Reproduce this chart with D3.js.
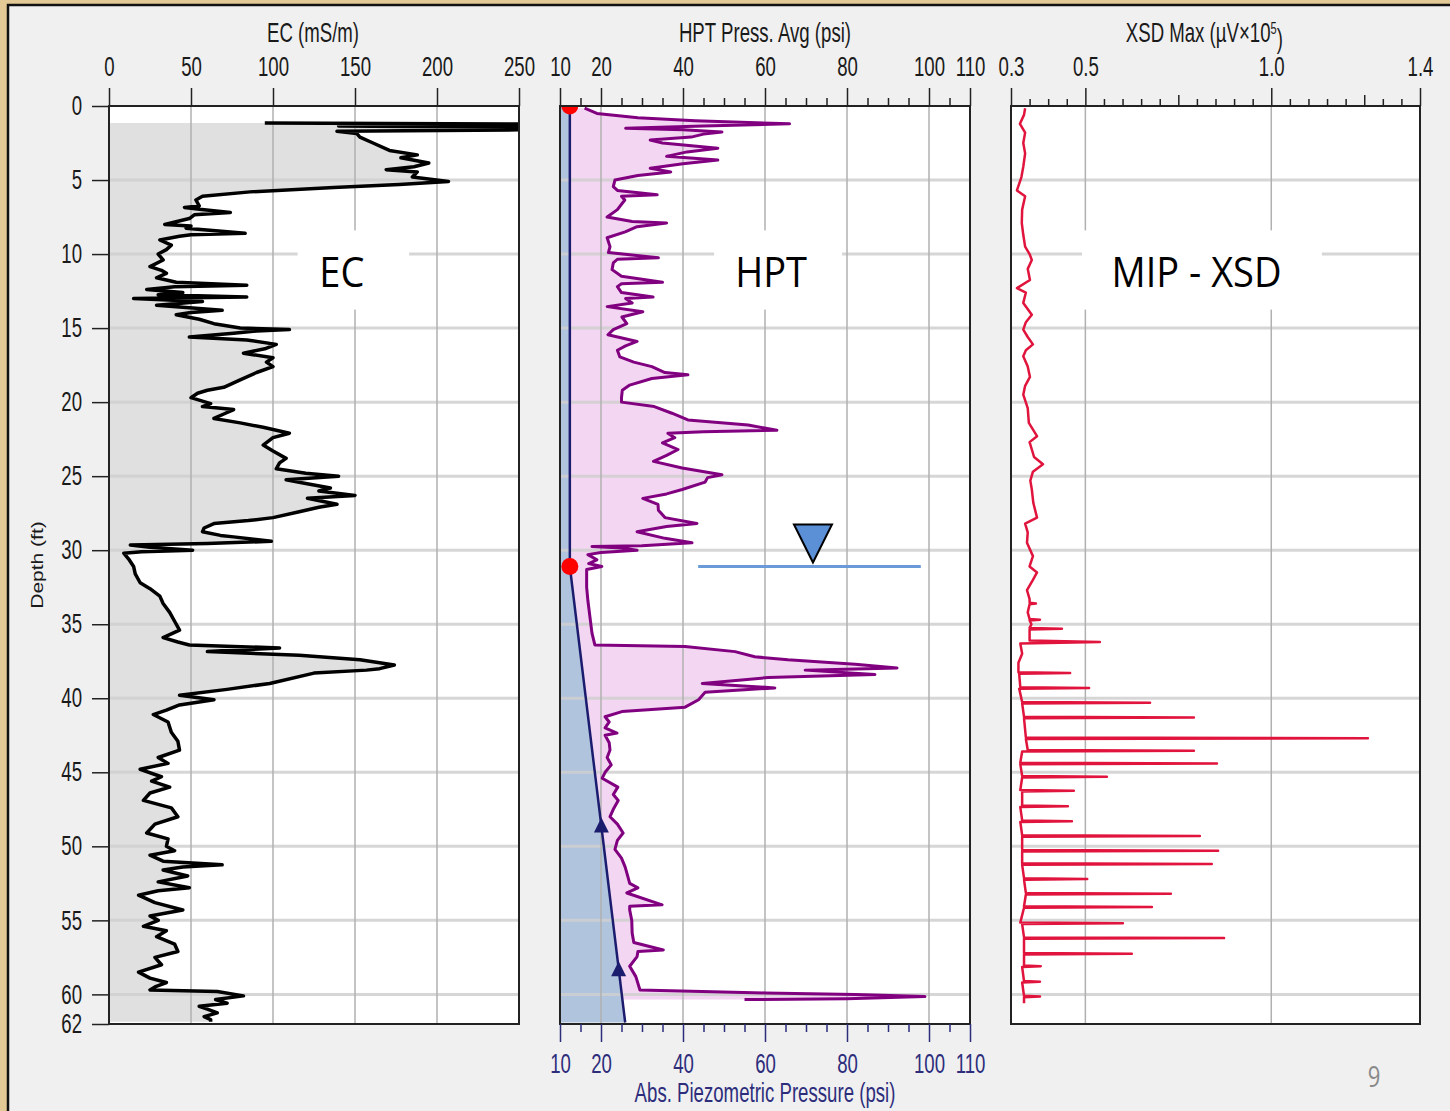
<!DOCTYPE html>
<html>
<head>
<meta charset="utf-8">
<script src="https://cdn.jsdelivr.net/npm/d3@7"></script>
<style>
body { margin: 0; background: #e2c995; }
svg text { font-family: 'Liberation Sans', Arial, sans-serif; }
</style>
</head>
<body>
<div id="chart"></div>
<script>
// depth axis
var depthTicks = [0, 5, 10, 15, 20, 25, 30, 35, 40, 45, 50, 55, 60, 62];
var ecTicks = [0, 50, 100, 150, 200, 250];
var hptTicks = [10, 20, 40, 60, 80, 100, 110];
var xsdTicks = [0.3, 0.5, 1.0, 1.4];

// EC log: [depth ft, EC mS/m]
var ecPoints = [
	[1.15, 95], [1.22, 262], [1.3, 262], [1.35, 140], [1.45, 262], [1.6, 262], [1.7, 139], [1.85, 151],
	[2.1, 153], [2.5, 161], [3.0, 171], [3.3, 188], [3.5, 178], [3.85, 195], [4.1, 186], [4.3, 169],
	[4.45, 188], [4.8, 185], [5.1, 207], [5.3, 177], [5.5, 137], [5.8, 86], [6.1, 57], [6.35, 53],
	[6.75, 55], [6.85, 46], [7.0, 58], [7.2, 74], [7.35, 52], [7.6, 49], [8.0, 34], [8.1, 50],
	[8.25, 47], [8.6, 83], [8.7, 50], [8.8, 43], [9.05, 31], [9.4, 38], [9.7, 35], [10.0, 30],
	[10.4, 33], [10.85, 25], [11.1, 32], [11.3, 35], [11.6, 29], [11.9, 41], [12.1, 84], [12.2, 40],
	[12.4, 23], [12.6, 45], [12.75, 30], [12.9, 84], [13.0, 15], [13.2, 57], [13.45, 29], [13.6, 45],
	[13.8, 69], [13.95, 50], [14.1, 41], [14.4, 55], [14.7, 64], [15.0, 80], [15.1, 110], [15.2, 90],
	[15.35, 76], [15.6, 49], [15.8, 84], [16.1, 102], [16.4, 95], [16.7, 82], [17.0, 100], [17.3, 96],
	[17.6, 100], [18.0, 90], [18.5, 80], [19.0, 70], [19.2, 60], [19.4, 54], [19.7, 50], [20.1, 62],
	[20.3, 57], [20.5, 76], [20.8, 70], [21.1, 64], [21.4, 80], [21.7, 94], [22.1, 110], [22.4, 100],
	[22.9, 94], [23.3, 100], [23.8, 108], [24.1, 104], [24.5, 102], [24.8, 120], [25.0, 140], [25.25, 108],
	[25.5, 120], [25.8, 135], [26.0, 128], [26.3, 150], [26.5, 121], [26.7, 130], [26.9, 139], [27.1, 128],
	[27.4, 116], [27.8, 100], [28.0, 85], [28.2, 64], [28.5, 58], [28.75, 57], [29.0, 68], [29.1, 76],
	[29.4, 99], [29.55, 60], [29.65, 13], [29.8, 25], [30.0, 51], [30.1, 20], [30.2, 9], [30.6, 12],
	[31.1, 15], [31.6, 16], [32.2, 19], [32.6, 25], [33.1, 31], [33.6, 33], [34.2, 37], [34.8, 40],
	[35.4, 43], [35.9, 33], [36.2, 42], [36.4, 49], [36.6, 104], [36.85, 60], [37.1, 116], [37.4, 153],
	[37.75, 174], [38.0, 165], [38.1, 157], [38.3, 125], [39.0, 98], [39.4, 72], [39.8, 43], [40.1, 64],
	[40.45, 43], [40.8, 35], [41.1, 27], [41.6, 36], [42.3, 38], [42.9, 42], [43.5, 43], [44.0, 30],
	[44.4, 36], [44.8, 19], [45.3, 32], [45.6, 26], [46.0, 37], [46.4, 25], [46.9, 21], [47.4, 38],
	[48.0, 42], [48.5, 28], [49.1, 23], [49.5, 36], [50.0, 35], [50.3, 40], [50.6, 25], [51.0, 33],
	[51.25, 69], [51.4, 45], [51.6, 33], [52.0, 48], [52.4, 30], [52.8, 49], [53.0, 30], [53.3, 18],
	[53.8, 28], [54.3, 45], [54.7, 25], [55.0, 30], [55.4, 21], [55.7, 35], [56.1, 29], [56.6, 40],
	[57.1, 42], [57.5, 28], [58.0, 32], [58.5, 18], [58.9, 25], [59.2, 35], [59.5, 28], [59.7, 25],
	[59.8, 66], [60.1, 82], [60.35, 65], [60.6, 72], [60.8, 55], [61.0, 60], [61.25, 66], [61.5, 58],
	[61.7, 62], [61.85, 62]
];

// HPT pressure: [depth ft, psi]
var hptPoints = [
	[0.15, 16], [0.5, 19], [0.8, 29], [1.0, 43], [1.2, 66], [1.35, 45], [1.5, 26], [1.6, 40],
	[1.75, 49.5], [1.9, 45], [2.1, 42], [2.3, 32], [2.5, 35], [2.85, 48.5], [3.1, 41], [3.4, 36],
	[3.65, 48.5], [3.9, 40], [4.2, 32], [4.45, 37], [4.7, 29], [5.0, 23.4], [5.45, 23], [5.7, 24],
	[6.0, 33.7], [6.1, 25], [6.35, 25.8], [7.0, 24], [7.5, 21.5], [7.8, 27.6], [7.9, 36], [8.15, 28.8],
	[8.5, 25.9], [8.9, 21.5], [9.5, 22.2], [9.9, 21.8], [10.25, 34], [10.35, 24], [10.6, 23], [11.05, 22.7],
	[11.5, 25], [11.9, 35], [12.0, 25], [12.2, 24], [12.6, 25], [12.9, 32.7], [13.0, 26], [13.3, 27.6],
	[13.55, 21.5], [13.9, 30.2], [14.25, 25.1], [14.7, 26.3], [15.1, 23], [15.45, 21.7], [15.9, 28.8], [16.2, 26],
	[16.5, 24], [16.95, 24.6], [17.3, 28], [17.6, 32.4], [18.0, 35.6], [18.15, 41.2], [18.4, 32.4], [18.85, 27],
	[19.2, 25.2], [19.7, 25], [20.0, 25], [20.3, 33], [20.75, 37.3], [21.2, 41.2], [21.55, 55.9], [21.9, 62.9],
	[22.0, 45], [22.1, 36.3], [22.4, 38], [22.75, 35], [23.2, 38.8], [23.6, 36], [24.0, 32.8], [24.45, 39.8],
	[24.9, 49.5], [25.1, 46], [25.4, 45.4], [25.9, 39.8], [26.2, 36], [26.5, 30.2], [26.9, 33.9], [27.3, 34],
	[27.8, 35.6], [28.2, 43.4], [28.4, 36], [28.75, 28.8], [29.2, 35.6], [29.5, 42.2], [29.7, 30], [29.75, 17.8],
	[29.85, 25], [30.0, 28.8], [30.15, 20], [30.3, 16.8], [30.65, 19], [30.9, 17], [31.1, 20.2], [31.3, 16.5],
	[32.5, 16.5], [33.4, 16.8], [34.5, 17.3], [35.6, 17.8], [36.4, 18.5], [36.5, 40.5], [36.85, 52.7], [37.2, 57.5],
	[37.4, 65.6], [37.7, 82], [37.95, 92.2], [38.1, 69.8], [38.4, 86.8], [38.6, 60.8], [39.0, 44.7], [39.3, 62.4],
	[39.6, 45.4], [40.1, 43.8], [40.6, 40.5], [40.9, 25.1], [41.25, 21], [41.6, 22], [42.0, 21], [42.35, 23.9],
	[42.5, 21], [43.0, 22], [43.5, 22.2], [44.0, 21.5], [44.5, 22.5], [45.0, 21], [45.4, 20.3], [46.0, 24.1],
	[46.5, 23], [46.9, 24.2], [47.5, 23], [48.0, 22.2], [48.5, 24], [49.1, 25.4], [49.6, 24], [50.2, 23.4],
	[50.8, 25], [51.4, 25.9], [52.0, 26.5], [52.5, 27], [52.8, 29], [53.15, 26.3], [53.95, 34.9], [54.05, 27],
	[54.3, 27], [55.0, 27.5], [55.85, 27.6], [56.5, 28], [57.0, 35.2], [57.1, 29], [57.45, 28.8], [58.1, 27],
	[58.8, 28.5], [59.7, 29.5], [59.9, 60], [60.0, 82], [60.15, 99], [60.3, 80], [60.35, 55]
];

// Abs. piezometric (hydrostatic) line: [depth ft, psi]
var hydroPoints = [[0, 12.4], [31.1, 12.4], [61.9, 25.9]];
var hydroDots = [[0, 12.4], [31.1, 12.4]];
var hydroArrows = [[48.6, 20.1], [58.3, 24.3]];
// water table marker: depth, psi from, psi to, psi of triangle
var waterTable = [31.1, 43.7, 98.0, 71.7];

// XSD max: [depth ft, uV x 10^5]
var xsdPoints = [
	[0.15, 0.338], [0.6, 0.335], [1.2, 0.324], [1.8, 0.338], [2.5, 0.333], [3.2, 0.338], [4.1, 0.333], [4.8, 0.328],
	[5.7, 0.316], [6.1, 0.338], [7.0, 0.33], [7.9, 0.329], [8.7, 0.333], [9.5, 0.338], [10.0, 0.35], [10.4, 0.356],
	[11.0, 0.345], [11.75, 0.351], [12.3, 0.316], [12.6, 0.34], [13.3, 0.333], [14.1, 0.356], [14.6, 0.34], [15.1, 0.333],
	[15.6, 0.345], [16.1, 0.359], [16.5, 0.34], [16.9, 0.333], [17.6, 0.345], [18.3, 0.351], [18.9, 0.338], [19.5, 0.333],
	[20.4, 0.345], [21.4, 0.348], [22.3, 0.37], [22.7, 0.35], [23.2, 0.356], [23.7, 0.362], [24.2, 0.386], [24.7, 0.359],
	[25.3, 0.352], [25.9, 0.356], [26.8, 0.36], [27.8, 0.37], [28.2, 0.338], [28.8, 0.345], [29.5, 0.343], [30.4, 0.359],
	[31.1, 0.35], [31.5, 0.37], [32.0, 0.359], [32.7, 0.343], [33.3, 0.35], [33.55, 0.35], [33.6, 0.367], [33.65, 0.35],
	[34.2, 0.345], [34.65, 0.35], [34.7, 0.378], [34.75, 0.35], [35.0, 0.355], [35.25, 0.35], [35.3, 0.437], [35.35, 0.35],
	[36.1, 0.35], [36.2, 0.539], [36.3, 0.325], [37.0, 0.33], [37.6, 0.32], [38.25, 0.32], [38.3, 0.459], [38.35, 0.322],
	[39.25, 0.325], [39.3, 0.51], [39.35, 0.322], [40.25, 0.33], [40.3, 0.674], [40.35, 0.33], [41.25, 0.335], [41.3, 0.792],
	[41.35, 0.335], [42.65, 0.34], [42.7, 1.26], [42.75, 0.34], [43.5, 0.345], [43.55, 0.792], [43.6, 0.33], [44.35, 0.325],
	[44.4, 0.854], [44.45, 0.325], [45.25, 0.33], [45.3, 0.558], [45.35, 0.33], [46.2, 0.325], [46.25, 0.469], [46.3, 0.33],
	[47.25, 0.33], [47.3, 0.453], [47.35, 0.325], [48.25, 0.33], [48.3, 0.464], [48.35, 0.325], [49.25, 0.33], [49.3, 0.808],
	[49.35, 0.33], [50.25, 0.33], [50.3, 0.857], [50.35, 0.33], [51.15, 0.33], [51.2, 0.84], [51.25, 0.33], [52.15, 0.335],
	[52.2, 0.505], [52.25, 0.335], [53.15, 0.34], [53.2, 0.73], [53.25, 0.34], [54.05, 0.335], [54.1, 0.679], [54.15, 0.335],
	[55.15, 0.325], [55.2, 0.601], [55.25, 0.33], [56.15, 0.335], [56.2, 0.873], [56.25, 0.335], [57.2, 0.335], [57.25, 0.625],
	[57.3, 0.335], [58.05, 0.335], [58.1, 0.38], [58.15, 0.33], [59.1, 0.335], [59.15, 0.378], [59.2, 0.33], [60.1, 0.335],
	[60.15, 0.378], [60.2, 0.335], [60.6, 0.335]
];


var W = 1450, H = 1111;
var top_y = 106, bottom_y = 1024;
var SQ = 0.69;          // the slide text is squeezed sideways
var FS = "27px";

var svg = d3.select("#chart").append("svg")
	.attr("width", W)
	.attr("height", H);

// backdrop
svg.append("rect").attr("width", W).attr("height", H).attr("fill", "#e2c995");
svg.append("rect").attr("x", 8).attr("y", 5).attr("width", W).attr("height", H)
	.attr("fill", "#f0f0f0").attr("stroke", "#111").attr("stroke-width", 2.5);

var y = d3.scaleLinear().domain([0, 62]).range([top_y, bottom_y]);

var panels = [
	{ id: "ec", x: d3.scaleLinear().domain([0, 250]).range([109, 519]), grid: [50, 100, 150, 200] },
	{ id: "hpt", x: d3.scaleLinear().domain([10, 110]).range([560, 970]), grid: [20, 40, 60, 80, 100] },
	{ id: "xsd", x: d3.scaleLinear().domain([0.3, 1.4]).range([1011, 1420]), grid: [0.5, 1.0] }
];

var defs = svg.append("defs");
var layers = {};

panels.forEach(function(p) {
	var r = p.x.range();
	defs.append("clipPath").attr("id", "clip-" + p.id)
		.append("rect").attr("x", r[0]).attr("y", top_y).attr("width", r[1] - r[0]).attr("height", bottom_y - top_y);

	svg.append("rect").attr("x", r[0]).attr("y", top_y).attr("width", r[1] - r[0]).attr("height", bottom_y - top_y)
		.attr("fill", "#fff");

	p.fill = svg.append("g").attr("clip-path", "url(#clip-" + p.id + ")");
	p.grid_g = svg.append("g");
	p.marks = svg.append("g").attr("clip-path", "url(#clip-" + p.id + ")");
	layers[p.id] = p;
});

// grid
panels.forEach(function(p) {
	var r = p.x.range();
	p.grid_g.selectAll(".hgrid").data(depthTicks.filter(function(d) { return d > 0 && d < 62; }))
		.enter().append("line")
		.attr("x1", r[0]).attr("x2", r[1])
		.attr("y1", function(d) { return y(d); }).attr("y2", function(d) { return y(d); })
		.attr("stroke", "#cfcfcf").attr("stroke-opacity", 0.85).attr("stroke-width", 3);
	p.grid_g.selectAll(".vgrid").data(p.grid)
		.enter().append("line")
		.attr("x1", function(d) { return p.x(d); }).attr("x2", function(d) { return p.x(d); })
		.attr("y1", top_y).attr("y2", bottom_y)
		.attr("stroke", "#b0b0b0").attr("stroke-width", 1.5);
});

var ec = layers.ec, hpt = layers.hpt, xsd = layers.xsd;

// EC
ec.fill.append("path").datum(ecPoints)
	.attr("fill", "#e0e0e0")
	.attr("d", d3.area().y(function(d) { return y(d[0]); }).x0(ec.x(0)).x1(function(d) { return ec.x(d[1]); }));

// HPT fills
hpt.fill.append("path").datum(hptPoints)
	.attr("fill", "#f3d6f1")
	.attr("d", d3.area().y(function(d) { return y(d[0]); }).x0(hpt.x(10)).x1(function(d) { return hpt.x(d[1]); }));
hpt.fill.append("path").datum(hydroPoints)
	.attr("fill", "#b0c4de")
	.attr("d", d3.area().y(function(d) { return y(d[0]); }).x0(hpt.x(10)).x1(function(d) { return hpt.x(d[1]); }));

// text boxes breaking the grid
var labels = [
	{ p: ec, text: "EC", v: 142, box: [115, 183] },
	{ p: hpt, text: "HPT", v: 61.5, box: [47.6, 78.8] },
	{ p: xsd, text: "MIP - XSD", v: 0.799, box: [0.491, 1.136] }
];
labels.forEach(function(l) {
	l.p.grid_g.append("rect")
		.attr("x", l.p.x(l.box[0])).attr("y", y(8.4))
		.attr("width", l.p.x(l.box[1]) - l.p.x(l.box[0])).attr("height", y(13.75) - y(8.4))
		.attr("fill", "#fff");
	l.p.grid_g.append("text")
		.attr("transform", "translate(" + l.p.x(l.v) + "," + y(12.2) + ") scale(0.95,1.05)")
		.attr("text-anchor", "middle")
		.style("font-family", "'Open Sans', sans-serif")
		.style("font-size", "40px")
		.attr("fill", "#000")
		.text(l.text);
});

var line = function(sx) {
	return d3.line().y(function(d) { return y(d[0]); }).x(function(d) { return sx(d[1]); });
};

ec.marks.append("path").datum(ecPoints)
	.attr("fill", "none").attr("stroke", "#000").attr("stroke-width", 3.5).attr("stroke-linejoin", "round")
	.attr("d", line(ec.x));

hpt.marks.append("path").datum(hydroPoints)
	.attr("fill", "none").attr("stroke", "#1c1c6e").attr("stroke-width", 2.5)
	.attr("d", line(hpt.x));

hpt.marks.append("path").datum(hptPoints)
	.attr("fill", "none").attr("stroke", "#800080").attr("stroke-width", 3).attr("stroke-linejoin", "round")
	.attr("d", line(hpt.x));

hpt.marks.selectAll(".dot").data(hydroDots).enter().append("circle")
	.attr("cx", function(d) { return hpt.x(d[1]); })
	.attr("cy", function(d) { return y(d[0]); })
	.attr("r", 8.5).attr("fill", "#ff0000");

hpt.marks.selectAll(".arrow").data(hydroArrows).enter().append("path")
	.attr("transform", function(d) { return "translate(" + hpt.x(d[1]) + "," + y(d[0]) + ")"; })
	.attr("d", "M0,-8 L7.5,7 L-7.5,7 Z")
	.attr("fill", "#1c1c6e");

// water table marker
hpt.marks.append("line")
	.attr("x1", hpt.x(waterTable[1])).attr("x2", hpt.x(waterTable[2]))
	.attr("y1", y(waterTable[0])).attr("y2", y(waterTable[0]))
	.attr("stroke", "#6a9bd8").attr("stroke-width", 3);
hpt.marks.append("path")
	.attr("transform", "translate(" + hpt.x(waterTable[3]) + "," + (y(waterTable[0]) - 4) + ")")
	.attr("d", "M0,0 L-19,-38 L19,-38 Z")
	.attr("fill", "#5b8fd6").attr("stroke", "#000").attr("stroke-width", 2).attr("stroke-linejoin", "miter");

xsd.marks.append("path").datum(xsdPoints)
	.attr("fill", "none").attr("stroke", "#e0143c").attr("stroke-width", 2.5).attr("stroke-linejoin", "round")
	.attr("d", line(xsd.x));

// plot frames
panels.forEach(function(p) {
	var r = p.x.range();
	svg.append("rect").attr("x", r[0]).attr("y", top_y).attr("width", r[1] - r[0]).attr("height", bottom_y - top_y)
		.attr("fill", "none").attr("stroke", "#222").attr("stroke-width", 2);
});

// axes
function styleAxis(g, color) {
	g.select(".domain").remove();
	g.selectAll(".tick line").attr("stroke", color || "#222").attr("stroke-width", 1.5);
	g.selectAll(".tick text").attr("fill", color || "#1a1a1a").style("font-size", FS)
		.attr("transform", "scale(" + SQ + ",1)");
}

var g;
g = svg.append("g").attr("transform", "translate(0," + top_y + ")")
	.call(d3.axisTop(ec.x).tickValues(ecTicks).tickSize(18).tickPadding(12));
styleAxis(g);

var hptMinor = d3.range(15, 110, 5).filter(function(v) { return hptTicks.indexOf(v) < 0; });
g = svg.append("g").attr("transform", "translate(0," + top_y + ")")
	.call(d3.axisTop(hpt.x).tickValues(hptTicks).tickSize(18).tickPadding(12));
styleAxis(g);
g = svg.append("g").attr("transform", "translate(0," + top_y + ")")
	.call(d3.axisTop(hpt.x).tickValues(hptMinor).tickSize(8).tickFormat(""));
styleAxis(g);

var xsdMinor = d3.range(7, 28).map(function(i) { return i * 0.05; })
	.filter(function(v) { return !xsdTicks.some(function(t) { return Math.abs(t - v) < 1e-6; }); });
g = svg.append("g").attr("transform", "translate(0," + top_y + ")")
	.call(d3.axisTop(xsd.x).tickValues(xsdTicks).tickSize(18).tickPadding(12).tickFormat(d3.format(".1f")));
styleAxis(g);
g = svg.append("g").attr("transform", "translate(0," + top_y + ")")
	.call(d3.axisTop(xsd.x).tickValues(xsdMinor).tickSize(7).tickFormat(""));
styleAxis(g);
g.selectAll(".tick line").attr("y2", function(d) { return (Math.abs(d - 0.75) < 1e-6 || Math.abs(d - 1.25) < 1e-6) ? -11 : -7; });

// bottom piezometric axis
var navy = "#2d2d7c";
g = svg.append("g").attr("transform", "translate(0," + bottom_y + ")")
	.call(d3.axisBottom(hpt.x).tickValues(hptTicks).tickSize(18).tickPadding(12));
styleAxis(g, navy);
g = svg.append("g").attr("transform", "translate(0," + bottom_y + ")")
	.call(d3.axisBottom(hpt.x).tickValues(hptMinor).tickSize(8).tickFormat(""));
styleAxis(g, navy);

// depth axis
g = svg.append("g").attr("transform", "translate(" + ec.x(0) + ",0)")
	.call(d3.axisLeft(y).tickValues(depthTicks).tickSize(17).tickPadding(10));
styleAxis(g);
g.selectAll(".tick text").attr("x", -27 / SQ);

// titles
function squeezed(x, yy, color) {
	return svg.append("text")
		.attr("transform", "translate(" + x + "," + yy + ") scale(" + SQ + ",1)")
		.attr("dy", "0.35em").attr("text-anchor", "middle")
		.style("font-size", FS).attr("fill", color || "#1a1a1a");
}
squeezed(ec.x(125) - 1, 33).text("EC (mS/m)");
squeezed(hpt.x(60), 33).text("HPT Press. Avg (psi)");
var xt = squeezed(xsd.x(0.82), 33);
xt.append("tspan").text("XSD Max (\u00b5V\u00d710");
xt.append("tspan").attr("dy", "-0.5em").style("font-size", "16px").text("5");
xt.append("tspan").attr("dy", "0.5em").text(")");

squeezed(hpt.x(60), 1093, navy).text("Abs. Piezometric Pressure (psi)");

svg.append("text").attr("transform", "translate(37," + y(31) + ") rotate(-90) scale(1,0.75)")
	.attr("dy", "0.35em").attr("text-anchor", "middle").style("font-size", "21px").attr("fill", "#1a1a1a")
	.text("Depth (ft)");

svg.append("text").attr("transform", "translate(1374,1077) scale(0.85,1.1)")
	.attr("dy", "0.35em")
	.attr("text-anchor", "middle").style("font-family", "'Open Sans', sans-serif").style("font-size", "26px")
	.attr("fill", "#8a8a8a").text("9");
</script>
</body>
</html>
